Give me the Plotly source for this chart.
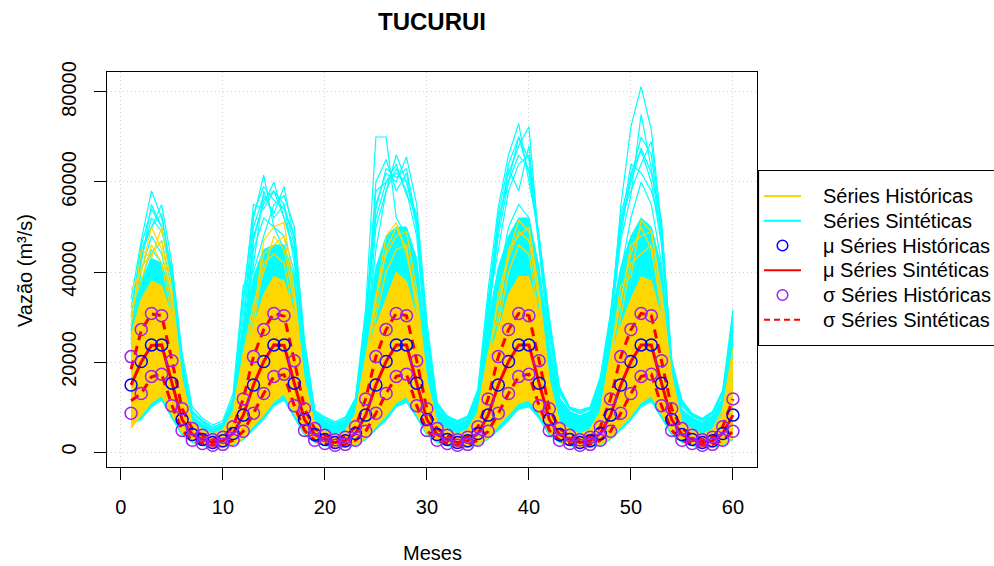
import plotly.graph_objects as go

# ---------------- data ----------------
months = list(range(1, 61))

# historical monthly statistics (m3/s), repeated every year of the 60-month window
mu_hist_month = [14900, 20100, 23800, 23800, 15300, 7200, 3900, 2800, 2100, 2500, 4100, 8200]
sd_hist_month = [6300, 7100, 7000, 6500, 5000, 2400, 1300, 900, 600, 800, 1500, 3600]

# synthetic statistics (m3/s), 60 months
mu_sint = [14900, 20000, 23700, 23800, 15400, 7200, 3900, 2800, 2100, 2500, 4100, 8200,
           14900, 20100, 23800, 23700, 15300, 7200, 3900, 2800, 2100, 2500, 4100, 8200,
           14900, 20100, 23800, 23800, 15300, 7200, 3900, 2800, 2100, 2500, 4100, 8200,
           14900, 20100, 23800, 23800, 15300, 7200, 3900, 2800, 2100, 2500, 4100, 8200,
           14900, 20100, 23800, 23800, 15300, 7200, 3900, 2800, 2100, 2500, 4100, 8200]
sd_sint = [3500, 7000, 7000, 6500, 5000, 2400, 1300, 900, 600, 800, 1500, 3600,
           6300, 7100, 7000, 6500, 5000, 2400, 1300, 900, 600, 800, 1500, 3600,
           6300, 7100, 7000, 6500, 5000, 2400, 1300, 900, 600, 800, 1500, 3600,
           6300, 7100, 7000, 6500, 5000, 2400, 1300, 900, 600, 800, 1500, 3600,
           6300, 7100, 7000, 6500, 5000, 2400, 1300, 900, 600, 800, 1500, 3600]

# synthetic series envelope (thousand m3/s)
cyan_lo_k = [6.2, 7.2, 10.0, 11.5, 7.5, 3.7, 2.1, 1.4, 1.0, 1.0, 1.5, 2.7,
             5.0, 7.2, 10.2, 11.5, 7.6, 3.7, 2.1, 1.4, 1.0, 1.0, 1.5, 2.7,
             4.9, 7.0, 10.0, 11.0, 7.6, 3.7, 2.1, 1.4, 1.0, 1.0, 1.5, 2.8,
             4.8, 7.0, 9.5, 10.0, 7.4, 3.6, 2.1, 1.4, 1.0, 1.0, 1.5, 2.7,
             4.9, 7.1, 10.0, 11.2, 7.5, 3.7, 2.1, 1.4, 1.0, 1.0, 1.5, 2.7]
cyan_hi_k = [27, 38, 43, 42, 34, 18, 8, 6, 5, 6, 10.5, 27,
             39, 45, 46, 46, 39, 20, 8.5, 6.8, 5.8, 6.8, 11.5, 28,
             41, 48, 50, 50, 43, 22, 9.5, 7.3, 6.2, 7.2, 12, 29,
             41, 48, 52, 52, 41, 24, 12, 9, 8, 9, 14.5, 29,
             41, 48, 52, 50, 41, 18, 9.5, 7.6, 6.6, 8, 12, 26]

# individual synthetic series that stand out above the bulk (thousand m3/s)
cy1_k = [34, 47, 58, 52, 40, 20, 8.5, 6.5, 5, 6, 10, 30,
         52, 61.5, 50, 45, 35, 16, 7, 5, 4, 5, 8, 20,
         25, 35, 40, 38, 28, 12, 5, 3.5, 3, 3.5, 6, 15,
         26, 36, 42, 40, 30, 14, 6, 4, 3.5, 4, 7, 16,
         28, 38, 44, 41, 30, 12, 5.5, 4, 3, 4, 6.5, 16]
cy2_k = [28, 44, 50, 55, 42, 22, 10, 7.5, 6, 7, 13, 37,
         40, 48, 55, 57, 50, 25, 9.3, 7.8, 6.7, 7.8, 12, 32,
         70, 70, 52, 48, 38, 18, 8, 6, 5, 6, 9, 24,
         38, 50, 55, 52, 40, 20, 9, 7, 6, 7, 11, 28,
         40, 52, 60, 55, 42, 16, 8, 6, 5, 6, 10, 24]
cy3_k = [26, 40, 48, 44, 34, 15, 7, 5, 4, 5, 9, 22,
         48, 55, 60, 52, 45, 20, 8, 6, 5, 6, 10, 25,
         55, 62, 60, 65.6, 55, 29, 11, 8, 7, 8, 14, 36,
         54.5, 66, 73, 60, 48, 30, 14.5, 10, 9.3, 10, 16.7, 31,
         50, 60, 67.5, 62, 51.5, 20.4, 11.6, 8.6, 7.5, 9, 13.8, 31.5]
cy4_k = [24, 38, 45, 42, 32, 14, 6, 4.5, 3.5, 4.5, 8, 20,
         45, 52, 50, 48, 40, 18, 7, 5.5, 4.5, 5.5, 9, 22,
         50, 58, 63, 58, 48, 22, 9, 7, 6, 7, 11, 28,
         50, 62, 68, 72.3, 46, 26, 12, 9, 8, 9, 14, 28,
         54.5, 72.3, 81.2, 71.6, 50, 19, 10, 8, 7, 8, 12, 28]
cy5_k = [22, 35, 44, 47, 36, 16, 7, 5, 4, 5, 9, 25,
         42, 58, 52, 55, 42, 22, 8.5, 6.5, 5.5, 6.5, 11, 28,
         60, 65, 58, 62, 50, 25, 10, 7.5, 6.5, 7.5, 12, 32,
         45, 58, 64, 66, 45, 24, 11, 8.5, 7.5, 8.5, 13, 26,
         48, 62, 67, 60, 46, 17, 9, 7, 6, 7, 10, 31.5]
cy6_k = [30, 46, 54, 50, 38, 18, 8, 6, 5, 6, 11, 33,
         55, 54, 58, 52, 44, 19, 8, 6, 5, 6, 10, 24,
         45, 58, 66, 60, 52, 24, 9.5, 7, 6, 7, 12, 30,
         52, 60, 70, 62, 47, 28, 13, 9.5, 8.5, 9.5, 15, 30,
         52, 58, 64, 69, 49, 18, 10.5, 8, 7, 8.5, 13, 27]
cy7_k = [27, 43, 52, 49, 41, 21, 9, 7, 5.5, 6.5, 12, 28,
         50, 57, 53, 59, 47, 23, 9, 7, 6, 7, 11.5, 30,
         52, 60, 64, 57, 53, 27, 10.5, 7.8, 6.8, 7.8, 13, 34,
         50, 63, 58, 68, 47, 29, 14, 9.8, 9, 9.8, 16, 29,
         50, 64, 62, 58, 50, 20, 11, 8.3, 7.2, 8.8, 13.5, 30]
cy8_k = [32, 45, 50, 53, 39, 19, 8.8, 6.8, 5.4, 6.4, 11.5, 35,
         53, 59, 56, 54, 48, 24, 9, 7.5, 6.4, 7.5, 11.8, 30,
         58, 60, 62, 60, 50, 26, 10.8, 7.9, 6.9, 7.9, 13.5, 33,
         53, 64, 70, 65, 46, 27, 13.5, 9.6, 8.8, 9.7, 15.5, 30,
         53, 61, 70, 66, 48, 19.5, 11.2, 8.4, 7.3, 8.8, 13.2, 29]
cy9_k = [25, 42, 55, 50, 38, 17, 8, 6, 5, 6, 10, 26,
         47, 56, 58, 55, 46, 22, 8.8, 7.2, 6.2, 7.2, 11, 27,
         54, 63, 61, 63, 51, 26, 10.2, 7.6, 6.6, 7.6, 12.5, 31,
         48, 60, 66, 63, 48, 28, 13.8, 9.8, 8.9, 9.8, 16, 30,
         47, 57, 75, 63, 47, 18, 10.8, 8.2, 7.1, 8.6, 12.8, 27]

# historical series envelope (thousand m3/s)
yel_lo_k = [5.2, 8.0, 11.0, 12.5, 8.5, 4.2, 2.4, 1.6, 1.2, 1.2, 1.7, 3.0,
            5.8, 8.2, 11.2, 12.8, 8.6, 4.2, 2.4, 1.6, 1.2, 1.2, 1.7, 3.0,
            5.6, 8.0, 11.0, 12.2, 8.4, 4.2, 2.4, 1.6, 1.2, 1.2, 1.7, 3.0,
            5.8, 8.2, 10.8, 11.5, 8.6, 4.2, 2.4, 1.6, 1.2, 1.2, 1.7, 3.0,
            5.6, 8.0, 11.0, 12.4, 8.5, 4.2, 2.4, 1.6, 1.2, 1.2, 1.7, 3.0]
yel_hi_k = [26, 34, 38, 37, 30, 15.5, 6.3, 4.4, 3.5, 4.0, 8.0, 21,
            28, 35, 39, 38, 31, 16, 6.3, 4.4, 3.6, 4.1, 8.3, 21,
            28, 34, 40, 38, 30, 15.5, 6.4, 4.5, 3.5, 4.0, 8.0, 21.5,
            27, 35, 39, 39, 31, 15.5, 6.3, 4.4, 3.6, 4.1, 8.1, 21,
            28, 34, 39, 38, 30, 16, 6.3, 4.4, 3.5, 4.0, 8.0, 21]

# individual historical series above the bulk (thousand m3/s)
yl1_k = [36, 40, 50, 45, 32, 14, 6, 4.5, 3.8, 4.5, 8, 20,
         30, 47, 50, 51, 36, 15, 6, 4.5, 3.8, 4.5, 8, 19,
         34, 48, 51, 44, 33, 14, 6, 4.5, 3.8, 4.5, 8, 20,
         35, 44, 51.5, 49, 34, 15, 6.5, 5, 4, 5, 8.5, 21,
         37, 39, 51.5, 49, 34, 15, 6, 4.5, 3.8, 4.5, 8, 19]
yl2_k = [28, 45, 43, 50, 36, 16, 6.5, 5, 4, 5, 9, 22,
         33, 40, 48, 45, 33, 14, 6, 4.5, 3.8, 4.5, 8.5, 21,
         35, 44, 48, 49, 36, 16, 6.5, 5, 4, 5, 9, 22,
         30, 45, 48, 50, 36, 16, 6.5, 5, 4, 5, 9, 22,
         33, 46, 48, 49, 36, 17, 6.5, 5, 4, 5, 9.5, 23]
yl3_k = [32, 38, 46, 42, 30, 13, 5.5, 4.2, 3.5, 4.2, 7.5, 18,
         28, 42, 44, 42, 30, 13, 5.5, 4.2, 3.5, 4.2, 7.5, 17,
         30, 40, 45, 46, 31, 13, 5.5, 4.2, 3.5, 4.2, 7.5, 18,
         28, 40, 46, 44, 30, 14, 6, 4.5, 3.6, 4.5, 8, 19,
         30, 42, 44, 46, 31, 14, 5.8, 4.3, 3.5, 4.3, 8, 20]
yl4_k = [30, 41, 44, 47, 34, 15, 6.2, 4.6, 3.7, 4.6, 8.2, 21,
         31, 44, 46, 48, 34, 15, 6.2, 4.6, 3.7, 4.6, 8.2, 20,
         32, 45, 50, 45, 34, 15, 6.2, 4.6, 3.7, 4.6, 8.2, 21,
         33, 43, 49, 47, 33, 15, 6.2, 4.8, 3.8, 4.8, 8.4, 20,
         34, 44, 50, 45, 33, 16, 6.2, 4.6, 3.7, 4.6, 8.4, 21]

legend_labels = ["Séries Históricas", "Séries Sintéticas", "μ Séries Históricas",
                 "μ Séries Sintéticas", "σ Séries Históricas", "σ Séries Sintéticas"]

# ---------------- styling ----------------
GOLD = "#FFD700"
CYAN = "#00FFFF"
RED = "#FF0000"
BLUE = "#0000FF"
PURPLE = "#A020F0"
FONT = "Liberation Sans, Arial, sans-serif"

def k(vals):
    return [v * 1000 for v in vals]

mu_hist = mu_hist_month * 5
sd_hist = sd_hist_month * 5
hist_up = [m + s for m, s in zip(mu_hist, sd_hist)]
hist_dn = [m - s for m, s in zip(mu_hist, sd_hist)]
sint_up = [m + s for m, s in zip(mu_sint, sd_sint)]
sint_dn = [m - s for m, s in zip(mu_sint, sd_sint)]

fig = go.Figure()

# synthetic bulk
fig.add_trace(go.Scatter(x=months, y=k(cyan_lo_k), mode="lines",
                         line=dict(color=CYAN, width=1), showlegend=False, hoverinfo="skip"))
fig.add_trace(go.Scatter(x=months, y=k(cyan_hi_k), mode="lines", fill="tonexty",
                         fillcolor=CYAN, line=dict(color=CYAN, width=1),
                         showlegend=False, hoverinfo="skip"))
for s in [cy1_k, cy2_k, cy3_k, cy4_k, cy5_k, cy6_k, cy7_k, cy8_k, cy9_k]:
    fig.add_trace(go.Scatter(x=months, y=k(s), mode="lines",
                             line=dict(color=CYAN, width=1.2), showlegend=False, hoverinfo="skip"))

# historical bulk
fig.add_trace(go.Scatter(x=months, y=k(yel_lo_k), mode="lines",
                         line=dict(color=GOLD, width=1), showlegend=False, hoverinfo="skip"))
fig.add_trace(go.Scatter(x=months, y=k(yel_hi_k), mode="lines", fill="tonexty",
                         fillcolor=GOLD, line=dict(color=GOLD, width=1),
                         showlegend=False, hoverinfo="skip"))
for s in [yl1_k, yl2_k, yl3_k, yl4_k]:
    fig.add_trace(go.Scatter(x=months, y=k(s), mode="lines",
                             line=dict(color=GOLD, width=1.2), showlegend=False, hoverinfo="skip"))

# synthetic statistics
for s in [sint_up, sint_dn]:
    fig.add_trace(go.Scatter(x=months, y=s, mode="lines",
                             line=dict(color=RED, width=3, dash="9px,6px"),
                             showlegend=False, hoverinfo="skip"))
fig.add_trace(go.Scatter(x=months, y=mu_sint, mode="lines",
                         line=dict(color=RED, width=3), showlegend=False, hoverinfo="skip"))

# historical statistics
fig.add_trace(go.Scatter(x=months, y=mu_hist, mode="markers",
                         marker=dict(symbol="circle-open", size=12, color=BLUE, line=dict(width=1.5)),
                         showlegend=False, hoverinfo="skip"))
for s in [hist_up, hist_dn]:
    fig.add_trace(go.Scatter(x=months, y=s, mode="markers",
                             marker=dict(symbol="circle-open", size=12, color=PURPLE, line=dict(width=1.5)),
                             showlegend=False, hoverinfo="skip"))

# ---------------- layout ----------------
L, R, T, B = 107, 757, 72, 467
PW, PH = R - L, B - T

def px(xp):
    return (xp - L) / PW

def py(yp):
    return (B - yp) / PH

axis_common = dict(showline=True, linecolor="black", linewidth=1, mirror=True,
                   ticks="outside", ticklen=12, tickcolor="black", tickwidth=1,
                   showgrid=True, gridcolor="#D3D3D3", griddash="1px,3px", gridwidth=1,
                   zeroline=False, tickfont=dict(family=FONT, size=20, color="black"))

fig.update_layout(
    width=994, height=566,
    margin=dict(l=L, r=994 - R, t=T, b=566 - B, autoexpand=False),
    paper_bgcolor="white", plot_bgcolor="white",
    showlegend=False, hovermode=False,
    title=dict(text="<b>TUCURUI</b>", x=0.5, xref="paper", xanchor="center",
               y=1 - 22 / 566, yref="container", yanchor="middle",
               font=dict(family=FONT, size=24, color="black")),
    xaxis=dict(range=[-1.36, 62.36], tickmode="linear", tick0=0, dtick=10,
               ticklabelstandoff=10, **axis_common),
    yaxis=dict(range=[-3330, 84440], tickmode="linear", tick0=0, dtick=20000,
               tickformat="d", tickangle=-90, ticklabelstandoff=10, **axis_common),
)

annotations = [
    dict(text="Meses", x=0.5, y=py(553), xref="paper", yref="paper",
         xanchor="center", yanchor="middle", showarrow=False,
         font=dict(family=FONT, size=20, color="black")),
    dict(text="Vazão (m³/s)", x=px(25), y=py(271), xref="paper", yref="paper",
         xanchor="center", yanchor="middle", textangle=-90, showarrow=False,
         font=dict(family=FONT, size=20, color="black")),
]

shapes = [dict(type="rect", xref="paper", yref="paper",
               x0=px(758.5), x1=px(1010), y0=py(345.5), y1=py(170.5),
               line=dict(color="black", width=1.2), fillcolor="white", layer="above")]

row_y = [196, 220.8, 245.5, 270.3, 295, 319.8]
kinds = [("line", GOLD, "solid"), ("line", CYAN, "solid"), ("circle", BLUE, None),
         ("line", RED, "solid"), ("circle", PURPLE, None), ("line", RED, "6px,4px")]
for (kind, col, dash), yy, lab in zip(kinds, row_y, legend_labels):
    if kind == "line":
        shapes.append(dict(type="line", xref="paper", yref="paper",
                           x0=px(764), x1=px(801), y0=py(yy), y1=py(yy),
                           line=dict(color=col, width=2, dash=dash), layer="above"))
    else:
        r = 5.3
        shapes.append(dict(type="circle", xref="paper", yref="paper",
                           x0=px(782.5 - r), x1=px(782.5 + r), y0=py(yy + r), y1=py(yy - r),
                           line=dict(color=col, width=1.5), layer="above"))
    annotations.append(dict(text=lab, x=px(821), y=py(yy), xref="paper", yref="paper",
                            xanchor="left", yanchor="middle", showarrow=False,
                            font=dict(family=FONT, size=20, color="black")))

fig.update_layout(annotations=annotations, shapes=shapes)

fig.write_html("out.html")
